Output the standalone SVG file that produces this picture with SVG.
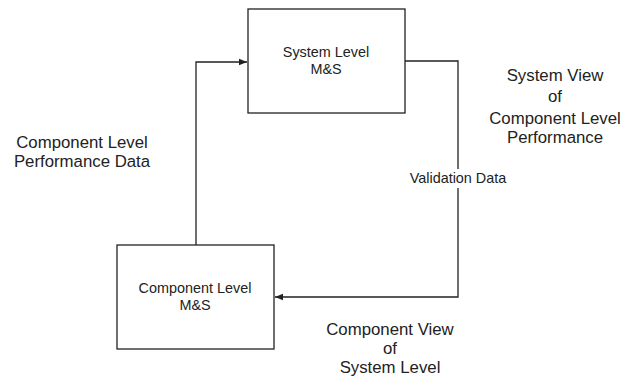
<svg xmlns="http://www.w3.org/2000/svg" width="632" height="379" viewBox="0 0 632 379">
<style>
.box{fill:#fff;stroke:#222;stroke-width:1.3}
.ln{fill:none;stroke:#222;stroke-width:1.3}
text{font-family:"Liberation Sans",Arial,sans-serif;fill:#222;text-anchor:middle}
.bt{font-size:14.4px}
.lb{font-size:16.8px}
.sm{font-size:14.4px}
</style>
<defs>
<marker id="ah" viewBox="0 0 10 10" refX="10" refY="5" markerWidth="8" markerHeight="8" markerUnits="userSpaceOnUse" orient="auto">
<path d="M0,1 L10,5 L0,9 Z" fill="#222"/>
</marker>
</defs>
<g id="connectors">
<path class="ln" d="M196,245 V62 H247" marker-end="url(#ah)"/>
<path class="ln" d="M405,61 H458 V297 H275" marker-end="url(#ah)"/>
<rect x="407" y="169" width="102" height="19" fill="#fff"/>
<text class="sm" x="458" y="183">Validation Data</text>
</g>
<g id="system">
<rect class="box" x="248" y="9" width="157" height="104"/>
<text class="bt" x="326" y="57">System Level</text>
<text class="bt" x="326" y="74">M&amp;S</text>
</g>
<g id="component">
<rect class="box" x="117" y="245" width="157" height="104"/>
<text class="bt" x="195" y="293">Component Level</text>
<text class="bt" x="195" y="310">M&amp;S</text>
</g>
<g id="label-left">
<text class="lb" x="82" y="148">Component Level</text>
<text class="lb" x="82" y="167">Performance Data</text>
</g>
<g id="label-right">
<text class="lb" x="555" y="81">System View</text>
<text class="lb" x="555" y="102">of</text>
<text class="lb" x="555" y="124">Component Level</text>
<text class="lb" x="555" y="143">Performance</text>
</g>
<g id="label-bottom">
<text class="lb" x="390" y="335">Component View</text>
<text class="lb" x="390" y="354">of</text>
<text class="lb" x="390" y="373">System Level</text>
</g>
</svg>
